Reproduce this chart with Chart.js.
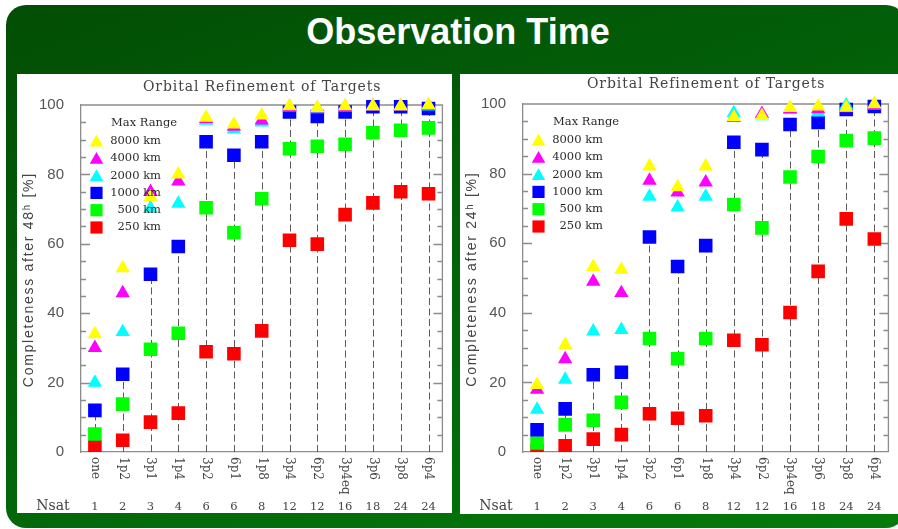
<!DOCTYPE html>
<html>
<head>
<meta charset="utf-8">
<script src="https://cdn.jsdelivr.net/npm/chart.js@4.4.1/dist/chart.umd.min.js"></script>
<style>
  body { margin: 0; width: 898px; height: 529px; background: #fff; position: relative; overflow: hidden; }
  #frame {
    position: absolute; left: 6px; top: 5px; width: 900px; height: 523px;
    border-radius: 20px;
    background: linear-gradient(160deg, #024e04 0%, #02650a 55%, #067a0a 100%);
  }
  #heading {
    position: absolute; left: 0; top: 11px; width: 916px; text-align: center;
    font: bold 36px "Liberation Sans", Arial, sans-serif; color: #fff;
  }
  .panel { position: absolute; background: #fff; }
  #p48 { left: 17px; top: 74px; width: 435px; height: 439px; }
  #p24 { left: 460px; top: 74px; width: 438px; height: 440px; }
</style>
</head>
<body>
<div id="frame"></div>
<div id="heading">Observation Time</div>
<div class="panel" id="p48"><canvas id="c48" width="435" height="439"></canvas></div>
<div class="panel" id="p24"><canvas id="c24" width="438" height="440"></canvas></div>

<script>
// x categories (satellite configurations) and number of satellites
const categories = ['one', '1p2', '3p1', '1p4', '3p2', '6p1', '1p8', '3p4', '6p2', '3p4eq', '3p6', '3p8', '6p4'];
const nsat = [1, 2, 3, 4, 6, 6, 8, 12, 12, 16, 18, 24, 24];
const rangeLabels = ['8000 km', '4000 km', '2000 km', '1000 km', '500 km', '250 km'];
const rangeColors = ['#ffff00', '#ff00ff', '#00ffff', '#0000ff', '#00ff00', '#ff0000'];
const rangeStyles = ['triangle', 'triangle', 'triangle', 'rect', 'rect', 'rect'];

// completeness after 48h [%]
const r8000_48 = [34, 53, 73.5, 80, 96.4, 94.4, 97, 99.7, 99.2, 99.7, 99.7, 99.7, 100];
const r4000_48 = [30, 45.8, 75, 78, 96, 93.8, 95.6, 99.5, 99, 99.5, 99.6, 99.6, 99.8];
const r2000_48 = [20, 34.6, 70.3, 71.6, 95.5, 93, 95, 99.3, 98.8, 99.3, 99.6, 99.6, 99.6];
const r1000_48 = [12, 22.4, 51.2, 59.2, 89.4, 85.5, 89.4, 98, 96.7, 98, 99.5, 99.5, 99];
const r500_48 = [5.2, 13.8, 29.6, 34.2, 70.4, 63.2, 73, 87.4, 88.1, 88.7, 92, 92.7, 93.4];
const r250_48 = [1.5, 3.4, 8.6, 11.2, 28.9, 28.3, 34.9, 61, 59.9, 68.4, 71.8, 75, 74.4];

// completeness after 24h [%]
const r8000_24 = [19.3, 30.8, 53.2, 52.4, 82.1, 76.1, 82.1, 96.2, 96.6, 98.9, 99.3, 99, 100];
const r4000_24 = [17.9, 26.7, 49, 45.7, 78, 74.6, 77.5, 96, 97.2, 98.5, 98.5, 98.8, 99.5];
const r2000_24 = [12.2, 20.8, 34.7, 35.1, 73.4, 70.3, 73.4, 97.4, 96.5, 98.3, 97.6, 99.6, 99.5];
const r1000_24 = [6.4, 12.4, 22.2, 22.9, 61.8, 53.3, 59.3, 89, 86.9, 94.1, 94.7, 98.4, 99.3];
const r500_24 = [2.6, 7.8, 9.1, 14.3, 32.6, 26.8, 32.6, 71.1, 64.4, 79, 84.9, 89.5, 90.2];
const r250_24 = [0.3, 1.8, 3.7, 5, 11, 9.7, 10.4, 32.1, 30.8, 40.1, 51.9, 67, 61.2];

const SERIF = '"DejaVu Serif", "Liberation Serif", serif';
const SANS = '"Liberation Sans", Arial, sans-serif';

// draw text stretched to a given width with letter spacing
function spacedText(ctx, text, x, y, width) {
  ctx.letterSpacing = '0px';
  const w = ctx.measureText(text).width;
  const sp = Math.max(0, (width - w) / text.length);
  ctx.letterSpacing = sp + 'px';
  ctx.fillText(text, x + sp / 2, y);
  ctx.letterSpacing = '0px';
}

function marker(ctx, style, color, x, y, r) {
  ctx.fillStyle = color;
  ctx.beginPath();
  if (style === 'triangle') {
    ctx.moveTo(x, y - r);
    ctx.lineTo(x + r * Math.sin(2 * Math.PI / 3), y + r / 2);
    ctx.lineTo(x - r * Math.sin(2 * Math.PI / 3), y + r / 2);
  } else {
    const s = r * Math.SQRT1_2;
    ctx.rect(x - s, y - s, 2 * s, 2 * s);
  }
  ctx.closePath();
  ctx.fill();
}

const decor = {
  id: 'decor',
  beforeDatasetsDraw(chart, args, opts) {
    const { ctx, chartArea: a, scales: { x, y } } = chart;
    ctx.save();
    ctx.strokeStyle = '#8c8c8c';
    ctx.lineWidth = 1.3;
    ctx.beginPath();
    ctx.moveTo(a.left, a.top); ctx.lineTo(a.right, a.top); ctx.lineTo(a.right, a.bottom);
    for (let v = 5; v < 100; v += 5) {
      const py = Math.round(y.getPixelForValue(v)) + 0.5;
      const len = v % 20 === 0 ? 9 : 5;
      ctx.moveTo(a.left, py); ctx.lineTo(a.left + len, py);
      ctx.moveTo(a.right, py); ctx.lineTo(a.right - len, py);
    }
    ctx.stroke();

    // dashed stems up to the 1000 km value
    ctx.strokeStyle = '#5a5a5a';
    ctx.lineWidth = 1;
    ctx.setLineDash([7, 3.5]);
    opts.stems.forEach((v, i) => {
      const px = Math.round(x.getPixelForValue(i)) + 0.5;
      ctx.beginPath();
      ctx.moveTo(px, y.getPixelForValue(0));
      ctx.lineTo(px, y.getPixelForValue(v));
      ctx.stroke();
    });
    ctx.restore();
  },
  afterDraw(chart, args, opts) {
    const { ctx, chartArea: a, scales: { x } } = chart;
    ctx.save();
    ctx.fillStyle = '#444';

    // chart title
    ctx.font = '14px ' + SERIF;
    ctx.textAlign = 'center';
    ctx.textBaseline = 'middle';
    spacedText(ctx, 'Orbital Refinement of Targets', (a.left + a.right) / 2, opts.titleY, 238);

    // y axis title
    ctx.save();
    ctx.translate(12, (a.top + a.bottom) / 2 + 2);
    ctx.rotate(-Math.PI / 2);
    ctx.font = '14px ' + SANS;
    spacedText(ctx, opts.yTitle, 0, 0, 215);
    ctx.restore();

    // legend
    ctx.textBaseline = 'middle';
    ctx.font = '11.5px ' + SERIF;
    ctx.textAlign = 'left';
    ctx.fillStyle = '#2a2a2a';
    spacedText(ctx, 'Max Range', a.left + 30, a.top + 18, 61);
    ctx.textAlign = 'right';
    chart.data.datasets.forEach((ds, i) => {
      const ty = a.top + 36 + i * 17.3;
      const tri = ds.pointStyle === 'triangle';
      marker(ctx, ds.pointStyle, ds.backgroundColor, a.left + 15.5, tri ? ty + 1.5 : ty, tri ? 7.8 : 8.6);
      ctx.fillStyle = '#2a2a2a';
      ctx.fillText(ds.label, a.left + 80, ty);
    });

    // rotated category labels and Nsat row
    ctx.fillStyle = '#444';
    categories.forEach((c, i) => {
      const px = x.getPixelForValue(i);
      ctx.save();
      ctx.translate(px, a.bottom + 5);
      ctx.rotate(Math.PI / 2);
      ctx.font = '12px ' + SERIF;
      ctx.textAlign = 'left';
      ctx.textBaseline = 'middle';
      ctx.fillText(c, 0, 0);
      ctx.restore();
      ctx.font = '11.5px ' + SERIF;
      ctx.textAlign = 'center';
      ctx.textBaseline = 'middle';
      ctx.fillText(String(nsat[i]), px, a.bottom + 55);
    });
    ctx.font = '14px ' + SERIF;
    ctx.textAlign = 'center';
    ctx.fillText('Nsat', opts.nsatX, a.bottom + 54);
    ctx.restore();
  }
};

function makeChart(id, series, opts) {
  const datasets = series.map((vals, i) => {
    const tri = rangeStyles[i] === 'triangle';
    return {
      label: rangeLabels[i],
      data: vals,
      showLine: false,
      pointStyle: rangeStyles[i],
      pointRadius: tri ? 8.3 : 9.6,
      pointHoverRadius: tri ? 8.3 : 9.6,
      pointBackgroundColor: rangeColors[i],
      backgroundColor: rangeColors[i],
      pointBorderWidth: 0,
      borderWidth: 0,
      clip: { left: 20, top: 20, right: 20, bottom: 0 }
    };
  });
  return new Chart(document.getElementById(id), {
    type: 'line',
    data: { labels: categories, datasets },
    options: {
      responsive: false,
      animation: false,
      layout: { padding: { top: opts.top, right: opts.right, left: 0, bottom: 0 } },
      plugins: {
        legend: { display: false },
        tooltip: { enabled: false },
        decor: { stems: series[3], yTitle: opts.yTitle, titleY: opts.titleY, nsatX: opts.nsatX }
      },
      scales: {
        x: {
          type: 'category',
          offset: true,
          grid: { display: false },
          border: { color: '#8c8c8c', width: 1.3 },
          ticks: { display: false },
          afterFit: s => { s.height = opts.xHeight; }
        },
        y: {
          min: 0, max: 100,
          grid: { display: false },
          border: { color: '#8c8c8c', width: 1.3 },
          ticks: { stepSize: 20, padding: 9, color: '#555', font: { family: SANS, size: 15 } },
          afterFit: s => { s.width = opts.yWidth; }
        }
      }
    },
    plugins: [decor]
  });
}

makeChart('c48', [r8000_48, r4000_48, r2000_48, r1000_48, r500_48, r250_48], {
  top: 31, right: 2, xHeight: 61, yWidth: 64, titleY: 13, nsatX: 36,
  yTitle: 'Completeness after 48ʰ [%]'
});
makeChart('c24', [r8000_24, r4000_24, r2000_24, r1000_24, r500_24, r250_24], {
  top: 30, right: 3, xHeight: 62, yWidth: 63, titleY: 10, nsatX: 36,
  yTitle: 'Completeness after 24ʰ [%]'
});
</script>
</body>
</html>
